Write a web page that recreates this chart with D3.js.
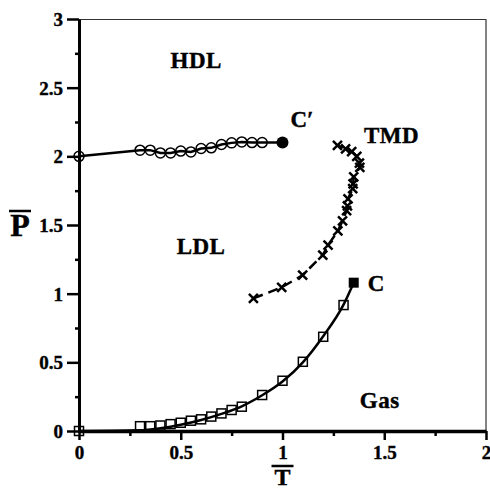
<!DOCTYPE html>
<html>
<head>
<meta charset="utf-8">
<script src="https://cdn.jsdelivr.net/npm/d3@7"></script>
<style>
  body { margin: 0; background: #fff; }
  text { font-family: "Liberation Serif", "Times New Roman", serif; font-weight: bold; fill: #000; stroke: #000; stroke-width: 0.4px; }
</style>
</head>
<body>
<div id="chart"></div>
<script>
// data (T = 1/T, P = P bar)
let hdlT = [0, 0.30, 0.35, 0.40, 0.45, 0.50, 0.55, 0.60, 0.65, 0.70, 0.75, 0.80, 0.85, 0.90];
let hdlP = [2.0, 2.045, 2.045, 2.025, 2.025, 2.038, 2.032, 2.057, 2.062, 2.086, 2.098, 2.105, 2.10, 2.10];
let cPrime = [1.0, 2.10];

let tmdT = [0.857, 0.996, 1.099, 1.198, 1.224, 1.272, 1.295, 1.315, 1.319, 1.322, 1.345, 1.347, 1.35, 1.38, 1.378, 1.365, 1.34, 1.31, 1.27];
let tmdP = [0.966, 1.046, 1.135, 1.281, 1.354, 1.457, 1.53, 1.605, 1.64, 1.69, 1.765, 1.80, 1.85, 1.92, 1.95, 2.0, 2.035, 2.055, 2.08];

let gasT = [0, 0.30, 0.35, 0.40, 0.45, 0.50, 0.55, 0.60, 0.65, 0.70, 0.75, 0.80, 0.90, 1.0, 1.1, 1.2, 1.3];
let gasP = [0, 0.035, 0.035, 0.04, 0.05, 0.06, 0.075, 0.085, 0.105, 0.128, 0.153, 0.177, 0.262, 0.366, 0.504, 0.686, 0.917];
let cPoint = [1.35, 1.08];

// fitted curve under the squares
let fitT = [0, 0.3, 0.4, 0.5, 0.6, 0.7, 0.8, 0.9, 1.0, 1.1, 1.2, 1.3, 1.35];
let fitP = [0, 0.005, 0.02, 0.045, 0.08, 0.125, 0.18, 0.26, 0.36, 0.50, 0.69, 0.92, 1.08];

let xTicks = [0, 0.5, 1, 1.5, 2];
let yTicks = [0, 0.5, 1, 1.5, 2, 2.5, 3];

let regionLabels = [
    {text: "HDL", t: 0.45, p: 2.64},
    {text: "LDL", t: 0.48, p: 1.29},
    {text: "TMD", t: 1.40, p: 2.10},
    {text: "Gas", t: 1.38, p: 0.17}
];

//set canvas and margins
let svgWidth = 490;
let svgHeight = 489;
let margin = {top: 19, right: 4, bottom: 58, left: 79};
let width = svgWidth - margin.left - margin.right;
let height = svgHeight - margin.top - margin.bottom;

let svg = d3.select("#chart")
    .append("svg")
    .attr("width", svgWidth)
    .attr("height", svgHeight);

let chartGroup = svg.append("g")
    .attr("transform", `translate(${margin.left}, ${margin.top})`);

let x = d3.scaleLinear().domain([0, 2]).range([0, width]);
let y = d3.scaleLinear().domain([0, 3]).range([height, 0]);

//frame on top and right
chartGroup.append("path")
    .attr("d", `M0,0.5H${width}V${height}`)
    .attr("fill", "none")
    .attr("stroke", "#333")
    .attr("stroke-width", 1.2);

//minor ticks
let xMinor = d3.axisBottom(x).tickValues(d3.range(0.25, 2, 0.5)).tickSize(5).tickFormat("");
let yMinor = d3.axisLeft(y).tickValues(d3.range(0.25, 3, 0.5)).tickSize(4).tickFormat("");

chartGroup.append("g").attr("transform", `translate(0, ${height})`).call(xMinor)
    .call(g => g.select(".domain").remove())
    .selectAll("line").attr("stroke-width", 2.5);
chartGroup.append("g").call(yMinor)
    .call(g => g.select(".domain").remove())
    .selectAll("line").attr("stroke-width", 2.5);

//major axes
let bottomAxis = d3.axisBottom(x).tickValues(xTicks).tickSize(9).tickPadding(6).tickSizeOuter(0)
    .tickFormat(d => d);
let leftAxis = d3.axisLeft(y).tickValues(yTicks).tickSize(12).tickPadding(4).tickSizeOuter(0)
    .tickFormat(d => d);

let xg = chartGroup.append("g")
    .attr("transform", `translate(0, ${height})`)
    .call(bottomAxis);
xg.select(".domain").attr("stroke-width", 3.5);
xg.selectAll("line").attr("stroke-width", 2.5);
xg.selectAll("text")
    .attr("font-size", 19)
    .attr("font-family", "Liberation Serif")
    .attr("font-weight", "bold");

let yg = chartGroup.append("g").call(leftAxis);
yg.select(".domain").attr("stroke-width", 3);
yg.selectAll("line").attr("stroke-width", 2.5);
yg.selectAll("text")
    .attr("font-size", 19)
    .attr("font-family", "Liberation Serif")
    .attr("font-weight", "bold")
    .attr("dy", "0.34em");

//line generators
let line = d3.line().x(d => x(d[0])).y(d => y(d[1]));
let smooth = d3.line().x(d => x(d[0])).y(d => y(d[1])).curve(d3.curveMonotoneX);

let hdl = hdlT.map((t, i) => [t, hdlP[i]]);
let tmd = tmdT.map((t, i) => [t, tmdP[i]]);
let gas = gasT.map((t, i) => [t, gasP[i]]);
let fit = fitT.map((t, i) => [t, fitP[i]]);

//HDL-LDL coexistence
chartGroup.append("path")
    .attr("d", line(hdl.concat([cPrime])))
    .attr("fill", "none")
    .attr("stroke", "#000")
    .attr("stroke-width", 2.5);

chartGroup.selectAll(".hdlDot")
    .data(hdl)
    .join("circle")
    .attr("cx", d => x(d[0]))
    .attr("cy", d => y(d[1]))
    .attr("r", 5)
    .attr("fill", "none")
    .attr("stroke", "#000")
    .attr("stroke-width", 1.5);

chartGroup.append("circle")
    .attr("cx", x(cPrime[0]))
    .attr("cy", y(cPrime[1]))
    .attr("r", 6)
    .attr("fill", "#000");

//TMD line
chartGroup.append("path")
    .attr("d", line(tmd))
    .attr("fill", "none")
    .attr("stroke", "#000")
    .attr("stroke-width", 2.5)
    .attr("stroke-dasharray", "10,6");

chartGroup.selectAll(".tmdX")
    .data(tmd)
    .join("path")
    .attr("d", d => {
        let cx = x(d[0]), cy = y(d[1]), s = 4.5;
        return `M${cx - s},${cy - s}L${cx + s},${cy + s}M${cx - s},${cy + s}L${cx + s},${cy - s}`;
    })
    .attr("stroke", "#000")
    .attr("stroke-width", 2.5);

//liquid-gas line
chartGroup.append("path")
    .attr("d", smooth(fit))
    .attr("fill", "none")
    .attr("stroke", "#000")
    .attr("stroke-width", 2.5);

chartGroup.selectAll(".gasSq")
    .data(gas)
    .join("rect")
    .attr("x", d => x(d[0]) - 4.5)
    .attr("y", d => y(d[1]) - 4.5)
    .attr("width", 9)
    .attr("height", 9)
    .attr("fill", "none")
    .attr("stroke", "#000")
    .attr("stroke-width", 1.5);

chartGroup.append("rect")
    .attr("x", x(cPoint[0]) - 5)
    .attr("y", y(cPoint[1]) - 5)
    .attr("width", 10)
    .attr("height", 10)
    .attr("fill", "#000");

//region labels
chartGroup.selectAll(".region")
    .data(regionLabels)
    .join("text")
    .attr("x", d => x(d.t))
    .attr("y", d => y(d.p))
    .attr("font-size", 23)
    .attr("letter-spacing", 0.5)
    .text(d => d.text);

//critical point labels
chartGroup.append("text")
    .attr("x", x(cPrime[0]) + 8)
    .attr("y", y(cPrime[1]) - 16)
    .attr("font-size", 23)
    .text("C\u2032");

chartGroup.append("text")
    .attr("x", x(cPoint[0]) + 14)
    .attr("y", y(cPoint[1]) + 8)
    .attr("font-size", 23)
    .text("C");

//label y axis: P with overbar
svg.append("text")
    .attr("x", 20)
    .attr("y", 236)
    .attr("text-anchor", "middle")
    .attr("font-size", 32)
    .text("P");
svg.append("line")
    .attr("x1", 9).attr("x2", 31)
    .attr("y1", 211).attr("y2", 211)
    .attr("stroke", "#000")
    .attr("stroke-width", 2.5);

//label x axis: the tick label "1" doubles as the numerator of 1/T
svg.append("line")
    .attr("x1", margin.left + x(1) - 11).attr("x2", margin.left + x(1) + 11)
    .attr("y1", 466).attr("y2", 466)
    .attr("stroke", "#000")
    .attr("stroke-width", 2.5);
svg.append("text")
    .attr("x", margin.left + x(1))
    .attr("y", 485)
    .attr("text-anchor", "middle")
    .attr("font-size", 24)
    .text("T");
</script>
</body>
</html>
